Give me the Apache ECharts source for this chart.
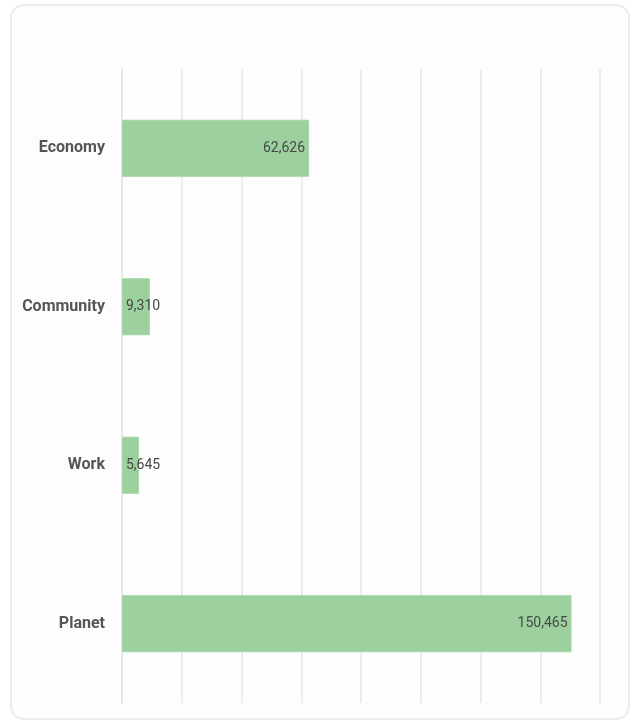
<!DOCTYPE html>
<html>
<head>
<meta charset="utf-8">
<script src="https://cdn.jsdelivr.net/npm/echarts@6/dist/echarts.min.js"></script>
<style>
	html, body { margin: 0; padding: 0; background: #fff; }
	.card {
		position: absolute;
		left: 10px;
		top: 4px;
		width: 616px;
		height: 712px;
		border: 2px solid #ececec;
		border-radius: 14px;
		background: #fdfdfd;
	}
	#chart { position: absolute; left: 0; top: 0; width: 635px; height: 722px; }
</style>
</head>
<body>
<div class="card"></div>
<div id="chart"></div>
<script>
	const categories = ["Economy", "Community", "Work", "Planet"];
	const values = [62626, 9310, 5645, 150465];
	const xMax = 160000;
	const xStep = 20000;

	const chart = echarts.init(document.getElementById("chart"));

	// small bars get their label from the bar start, like the original
	const barData = values.map(v => ({
		value: v,
		label: { position: v < 20000 ? "insideLeft" : "insideRight" }
	}));

	chart.setOption({
		animation: false,
		grid: { left: 122, right: 35, top: 69, bottom: 19 },
		xAxis: {
			type: "value",
			min: 0,
			max: xMax,
			interval: xStep,
			axisLabel: { show: false },
			axisLine: { show: false },
			axisTick: { show: false },
			splitLine: { lineStyle: { color: "#e6e6e6", width: 1.5 } }
		},
		yAxis: {
			type: "category",
			data: categories,
			inverse: true,
			axisLine: { lineStyle: { color: "#e6e6e6", width: 1.5 } },
			axisTick: { length: 5, lineStyle: { color: "#e6e6e6" } },
			axisLabel: {
				margin: 17,
				fontFamily: "Roboto",
				fontWeight: "bold",
				fontSize: 16,
				color: "#555"
			}
		},
		series: [
			{
				type: "bar",
				data: barData,
				barWidth: "36%",
				itemStyle: {
					color: "#9cd09e",
					borderColor: "#a6d5a8",
					borderWidth: 1
				},
				label: {
					show: true,
					distance: 4,
					fontFamily: "Roboto",
					fontSize: 14,
					color: "#484848",
					formatter: p => p.value.toLocaleString("en-US")
				}
			}
		]
	});
</script>
</body>
</html>
